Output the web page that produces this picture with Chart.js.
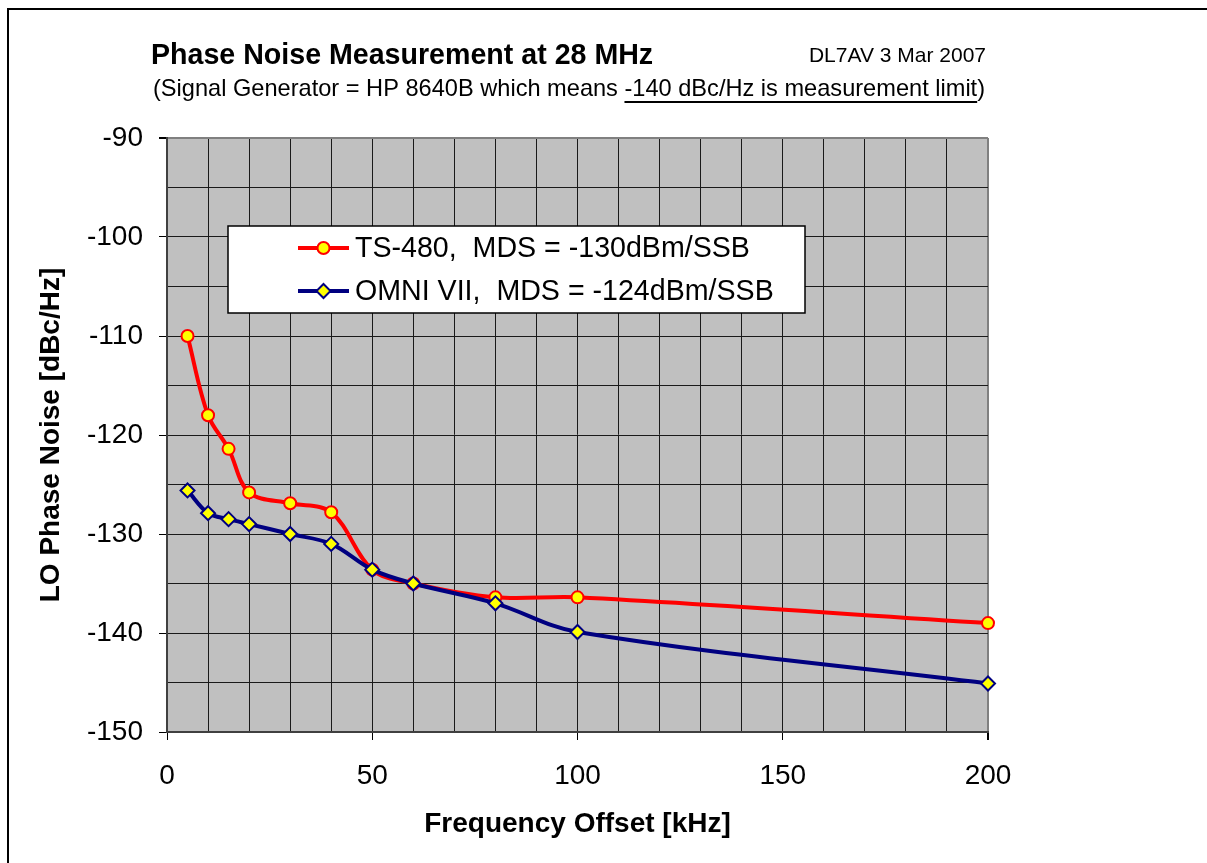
<!DOCTYPE html>
<html>
<head>
<meta charset="utf-8">
<script src="https://cdn.jsdelivr.net/npm/chart.js@4.4.0/dist/chart.umd.min.js"></script>
<style>
  html, body { margin: 0; padding: 0; background: #fff; }
  #wrap { width: 1207px; height: 863px; }
</style>
</head>
<body>
<div id="wrap"><canvas id="noiseChart" width="1207" height="863"></canvas></div>
<script>
// values
const freqKHz = [5, 10, 15, 20, 30, 40, 50, 60, 80, 100, 200];
const ts480 = [-110, -118, -121.4, -125.8, -126.9, -127.8, -133.6, -135, -136.4, -136.4, -139];
const omni7 = [-125.6, -127.9, -128.5, -129, -130, -131, -133.6, -135, -137, -139.9, -145.1];
const xTickLabels = [0, 50, 100, 150, 200];
const yTickLabels = [-90, -100, -110, -120, -130, -140, -150];

const FONT = "'Liberation Sans', Arial, sans-serif";
Chart.defaults.font.family = FONT;
Chart.defaults.color = '#000';

function toPoints(ys) {
  return freqKHz.map((f, i) => ({ x: f, y: ys[i] }));
}

// white page, grey plot area, outer frame
const background = {
  id: 'background',
  beforeDraw(chart) {
    const { ctx, chartArea: a } = chart;
    ctx.save();
    ctx.fillStyle = '#fff';
    ctx.fillRect(0, 0, chart.width, chart.height);
    ctx.fillStyle = '#c0c0c0';
    ctx.fillRect(a.left, a.top, a.right - a.left, a.bottom - a.top);
    ctx.restore();
  },
  afterDraw(chart) {
    const ctx = chart.ctx;
    ctx.save();
    ctx.fillStyle = '#000';
    ctx.fillRect(7, 8, chart.width - 7, 2);
    ctx.fillRect(7, 8, 2, chart.height - 8);
    ctx.restore();
  }
};

// title block: main title, date, subtitle with underlined part
const titles = {
  id: 'titles',
  afterDraw(chart) {
    const ctx = chart.ctx;
    ctx.save();
    ctx.fillStyle = '#000';
    ctx.textBaseline = 'alphabetic';
    ctx.textAlign = 'left';
    ctx.font = 'bold 28.6px ' + FONT;
    ctx.fillText('Phase Noise Measurement at 28 MHz', 151, 64);

    ctx.font = '21px ' + FONT;
    ctx.textAlign = 'right';
    ctx.fillText('DL7AV 3 Mar 2007', 986, 62);

    ctx.textAlign = 'left';
    ctx.font = '23.6px ' + FONT;
    const pre = '(Signal Generator = HP 8640B which means ';
    const und = '-140 dBc/Hz is measurement limit';
    const x0 = 153;
    ctx.fillText(pre + und + ')', x0, 96);
    const u1 = x0 + ctx.measureText(pre).width;
    const u2 = x0 + ctx.measureText(pre + und).width;
    ctx.fillRect(u1, 101, u2 - u1, 2);
    ctx.restore();
  }
};

// legend box drawn inside the plot
const insideLegend = {
  id: 'insideLegend',
  afterDatasetsDraw(chart) {
    const ctx = chart.ctx;
    const box = { x: 228, y: 226, w: 577, h: 87 };
    ctx.save();
    ctx.fillStyle = '#fff';
    ctx.fillRect(box.x, box.y, box.w, box.h);
    ctx.strokeStyle = '#000';
    ctx.lineWidth = 1.5;
    ctx.strokeRect(box.x, box.y, box.w, box.h);

    const rows = [248, 291];
    chart.data.datasets.forEach((ds, i) => {
      const y = rows[i];
      ctx.strokeStyle = ds.borderColor;
      ctx.lineWidth = ds.borderWidth;
      ctx.beginPath();
      ctx.moveTo(298, y);
      ctx.lineTo(349, y);
      ctx.stroke();

      const cx = 323.5, r = ds.pointRadius;
      ctx.fillStyle = ds.pointBackgroundColor;
      ctx.strokeStyle = ds.pointBorderColor;
      ctx.lineWidth = ds.pointBorderWidth;
      ctx.beginPath();
      if (ds.pointStyle === 'rectRot') {
        ctx.moveTo(cx, y - r);
        ctx.lineTo(cx + r, y);
        ctx.lineTo(cx, y + r);
        ctx.lineTo(cx - r, y);
        ctx.closePath();
      } else {
        ctx.arc(cx, y, r, 0, Math.PI * 2);
      }
      ctx.fill();
      ctx.stroke();

      ctx.fillStyle = '#000';
      ctx.font = '28.6px ' + FONT;
      ctx.textAlign = 'left';
      ctx.textBaseline = 'middle';
      ctx.fillText(ds.label, 355, y + 1);
    });
    ctx.restore();
  }
};

new Chart(document.getElementById('noiseChart'), {
  type: 'line',
  data: {
    datasets: [
      {
        label: 'TS-480,  MDS = -130dBm/SSB',
        data: toPoints(ts480),
        borderColor: '#ff0000',
        borderWidth: 4,
        pointStyle: 'circle',
        pointRadius: 6,
        pointBorderWidth: 2,
        pointBackgroundColor: '#ffff00',
        pointBorderColor: '#ff0000',
        tension: 0.35,
        clip: 10,
        order: 1
      },
      {
        label: 'OMNI VII,  MDS = -124dBm/SSB',
        data: toPoints(omni7),
        borderColor: '#000080',
        borderWidth: 4,
        pointStyle: 'rectRot',
        pointRadius: 7,
        pointBorderWidth: 2,
        pointBackgroundColor: '#ffff00',
        pointBorderColor: '#000080',
        tension: 0.35,
        clip: 10,
        order: 0
      }
    ]
  },
  options: {
    responsive: false,
    animation: false,
    layout: { padding: { left: 10, right: 219, top: 138, bottom: 0 } },
    plugins: {
      legend: { display: false },
      tooltip: { enabled: false }
    },
    scales: {
      x: {
        type: 'linear',
        min: 0,
        max: 200,
        ticks: {
          stepSize: 10,
          autoSkip: false,
          maxRotation: 0,
          padding: 19,
          font: { size: 28 },
          color: '#000',
          callback: v => (xTickLabels.includes(v) ? String(v) : '')
        },
        grid: {
          color: c => (c.tick && c.tick.value === 200 ? '#808080' : '#1a1a1a'),
          lineWidth: c => (c.tick && c.tick.value === 200 ? 2 : 1),
          tickLength: 8,
          tickColor: c => (c.tick && xTickLabels.includes(c.tick.value) ? '#000' : 'rgba(0,0,0,0)')
        },
        border: { color: '#404040', width: 2 },
        title: {
          display: true,
          text: 'Frequency Offset [kHz]',
          font: { size: 28, weight: 'bold' },
          color: '#000',
          padding: { top: 0, bottom: 22 }
        },
        afterFit: s => { s.height = 131; }
      },
      y: {
        min: -150,
        max: -90,
        ticks: {
          stepSize: 5,
          autoSkip: false,
          padding: 16,
          font: { size: 28 },
          color: '#000',
          callback: v => (yTickLabels.includes(v) ? String(v) : '')
        },
        grid: {
          color: c => (c.tick && c.tick.value === -90 ? '#808080' : '#1a1a1a'),
          lineWidth: c => (c.tick && c.tick.value === -90 ? 2 : 1),
          tickLength: 8,
          tickColor: c => (c.tick && yTickLabels.includes(c.tick.value) ? '#000' : 'rgba(0,0,0,0)')
        },
        border: { color: '#404040', width: 2 },
        title: {
          display: true,
          text: 'LO Phase Noise [dBc/Hz]',
          font: { size: 28, weight: 'bold' },
          color: '#000',
          padding: { top: 24, bottom: 0 }
        },
        afterFit: s => { s.width = 157; }
      }
    }
  },
  plugins: [background, titles, insideLegend]
});
</script>
</body>
</html>
